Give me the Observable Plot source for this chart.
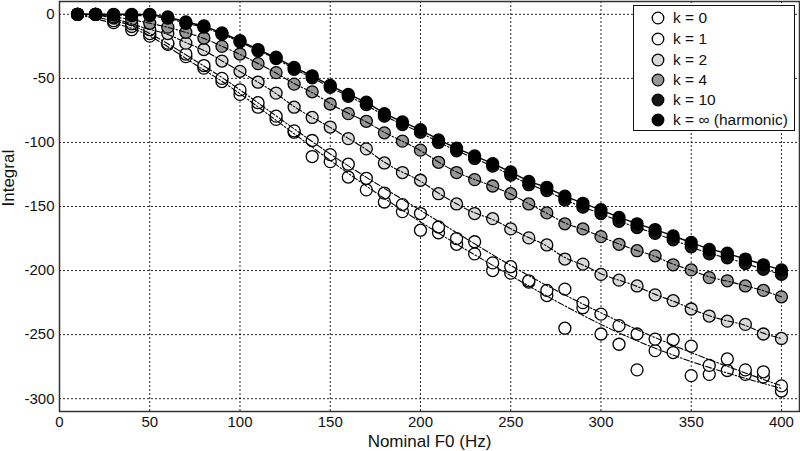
<!DOCTYPE html>
<html>
<head>
<meta charset="utf-8">
<script src="https://cdn.jsdelivr.net/npm/d3@7"></script>
<script src="https://cdn.jsdelivr.net/npm/@observablehq/plot@0.6"></script>
<style>
  body { margin: 0; background: #fff; }
  #wrap { position: relative; width: 800px; height: 451px; font-family: "Liberation Sans", Arial, sans-serif; }
  #legend { position: absolute; left: 633px; top: 5px; width: 160px; height: 124px; border: 1.5px solid #111; background: #fff; }
  #legend .row { position: absolute; left: 0; height: 20px; display: flex; align-items: center; font-size: 15.5px; color: #111; white-space: nowrap; }
  #legend svg { margin-left: 17px; margin-right: 8px; }
</style>
</head>
<body>
<div id="wrap"><div id="legend"></div></div>
<script>
// ---- data ----
const f0 = [10,20,30,40,50,60,70,80,90,100,110,120,130,140,150,160,170,180,190,200,
            210,220,230,240,250,260,270,280,290,300,310,320,330,340,350,360,370,380,390,400];

const k0 = [0,0,-6.5,-12,-17,-23.5,-33,-42,-52.5,-62.5,-72.5,-82,-92,-111,-115,-127,-137,-146.5,-154,-168.5,
            -170.5,-179.5,-187,-200,-202,-209,-219.5,-245,-229,-249.5,-257.5,-277.5,-262.5,-264,-282,-281,-278,-281,-283,-294];
const k1 = [0,0,-5,-9.5,-15,-22.5,-31,-40,-50,-59,-69,-79.5,-91,-98.5,-109.5,-117,-128,-139.5,-148.5,-155.5,
            -166,-175,-177.5,-194,-197,-208,-215.5,-214.5,-225,-234,-243,-249.5,-253.5,-254,-259,-274,-269,-277.5,-279,-290];
const k2 = [0,0,-3,-7.5,-12,-15,-22.5,-27.5,-36.5,-44.5,-53,-61.5,-72.5,-80.5,-88,-97,-105,-116,-123.5,-129.5,
            -140,-148,-155.5,-159.5,-167.5,-174.5,-180,-191,-195,-203,-207.5,-212,-219,-223.5,-230,-235.5,-239.5,-242,-249.5,-253];
const k4 = [0,0,-2,-4,-7,-10,-14,-18.5,-25,-31,-38.5,-45.5,-54.5,-60.5,-70,-77.5,-83.5,-92.5,-99,-106,
            -115.5,-123.5,-129,-134,-140,-148,-155,-163.5,-167.5,-173.5,-179.5,-184.5,-188.5,-195.5,-199.5,-205.5,-208,-212,-215.5,-220.5];
const k10 = [0,0,-0.5,-1,-1,-3,-7,-10,-15.5,-21.5,-28.5,-34.5,-43,-49.5,-57,-64,-70.5,-79.5,-86,-92,
             -100,-106.5,-112.5,-118.5,-125.5,-133,-137.5,-145,-150.5,-155.5,-161.5,-166.5,-171,-176,-181.5,-187,-190,-194.5,-199,-203];
const kInf = [0,0,0,0,0,-2,-6,-9,-14.5,-20.5,-27.5,-33.5,-41.5,-48,-55.5,-62.5,-68.5,-77.5,-84,-90,
              -98,-104.5,-110.5,-116.5,-123,-130.5,-135,-142,-147.5,-152.5,-158.5,-163.5,-168,-173,-178,-183.5,-186.5,-191,-195.5,-199.5];

// fitted curves of the two noisy series
const fitX = [10,30,50,75,100,150,200,250,300,350,400];
const k1Fit = [0,-5,-15,-36,-59,-109,-153,-196,-233,-264,-290];
const k0Fit = [0,-7,-17,-39,-62,-114,-162,-204,-242,-271,-292];

const seriesNames = ["k = 0","k = 1","k = 2","k = 4","k = 10","k = \u221e (harmonic)"];
const seriesValues = [k0, k1, k2, k4, k10, kInf];
const seriesFill = ["#ffffff","#fbfbfb","#d9d9d9","#979797","#161616","#000000"];

const xTicks = [0,50,100,150,200,250,300,350,400];
const yTicks = [0,-50,-100,-150,-200,-250,-300];

// ---- build tables ----
const pts = [];
seriesValues.forEach((vals, s) => vals.forEach((v, i) => pts.push({s, x: f0[i], y: v})));
const fitRows = [];
fitX.forEach((x, i) => { fitRows.push({s: 0, x, y: k0Fit[i]}); fitRows.push({s: 1, x, y: k1Fit[i]}); });
const smoothRows = pts.filter(d => d.s >= 2 && d.s <= 4);
const infRows = pts.filter(d => d.s === 5);

const dashDot = "6,2,1.5,2";
const gridStyle = {stroke: "#000", strokeOpacity: 0.85, strokeDasharray: "2,2", strokeWidth: 1};

const chart = Plot.plot({
  width: 800, height: 451,
  marginLeft: 59, marginRight: 1, marginTop: 1, marginBottom: 40,
  style: {fontFamily: "'Liberation Sans', Arial, sans-serif", fontSize: "15px", color: "#111", background: "#fff"},
  x: {domain: [0, 410], label: null},
  y: {domain: [-310, 10], label: null},
  marks: [
    Plot.gridX(xTicks, gridStyle),
    Plot.gridY(yTicks, gridStyle),
    Plot.dot(pts, {x: "x", y: "y", r: 6, fill: d => seriesFill[d.s], stroke: "#000", strokeWidth: 1.3}),
    Plot.line(fitRows, {x: "x", y: "y", z: "s", curve: "natural", stroke: "#000", strokeWidth: 1.1, strokeDasharray: dashDot}),
    Plot.line(smoothRows, {x: "x", y: "y", z: "s", curve: "basis", stroke: "#000", strokeWidth: 1.1, strokeDasharray: dashDot}),
    Plot.line(infRows, {x: "x", y: "y", curve: "basis", stroke: "#000", strokeWidth: 1.4}),
    Plot.frame({stroke: "#333", strokeWidth: 1.5}),
    Plot.axisX(xTicks, {tickSize: 0, tickPadding: 5, fontSize: 15}),
    Plot.axisY(yTicks, {tickSize: 0, tickPadding: 5, fontSize: 15, tickFormat: d => d < 0 ? "-" + Math.abs(d) : String(d)}),
    Plot.text(["Nominal F0 (Hz)"], {frameAnchor: "bottom", dy: 35, fontSize: 17, fill: "#111"}),
    Plot.text(["Integral"], {frameAnchor: "left", dx: -51, rotate: -90, fontSize: 17, fill: "#111"})
  ]
});
document.getElementById("wrap").prepend(chart);

// ---- legend ----
const legend = document.getElementById("legend");
const rowY = [2, 23, 44, 64, 84, 104];
seriesNames.forEach((name, i) => {
  const row = document.createElement("div");
  row.className = "row";
  row.style.top = rowY[i] + "px";
  row.innerHTML = `<svg width="14" height="14"><circle cx="7" cy="7" r="5.8" fill="${seriesFill[i]}" stroke="#000" stroke-width="1.3"/></svg><span>${name}</span>`;
  legend.appendChild(row);
});
</script>
</body>
</html>
